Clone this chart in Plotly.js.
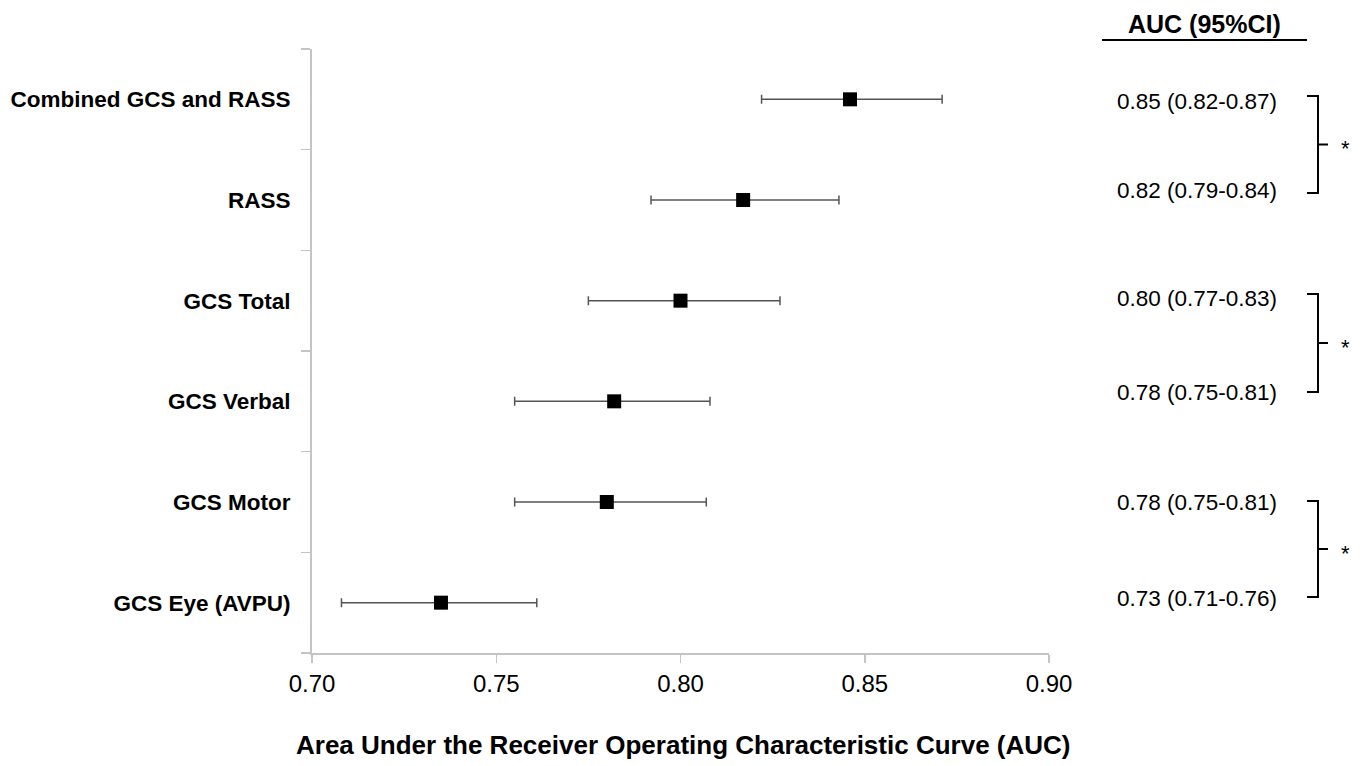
<!DOCTYPE html>
<html>
<head>
<meta charset="utf-8">
<script src="https://cdn.plot.ly/plotly-3.0.1.min.js"></script>
<style>html,body{margin:0;padding:0;background:#fff;}#chart{width:1363px;height:766px;}</style>
</head>
<body>
<div id="chart"></div>
<script>
// ---- data ----
var categories = ["Combined GCS and RASS", "RASS", "GCS Total", "GCS Verbal", "GCS Motor", "GCS Eye (AVPU)"];
var aucValues  = [0.846, 0.817, 0.800, 0.782, 0.780, 0.735];
var ciLower    = [0.822, 0.792, 0.775, 0.755, 0.755, 0.708];
var ciUpper    = [0.871, 0.843, 0.827, 0.808, 0.807, 0.761];
var aucLabels  = ["0.85 (0.82-0.87)", "0.82 (0.79-0.84)", "0.80 (0.77-0.83)", "0.78 (0.75-0.81)", "0.78 (0.75-0.81)", "0.73 (0.71-0.76)"];
var xTickVals  = [0.70, 0.75, 0.80, 0.85, 0.90];
var xTickText  = ["0.70", "0.75", "0.80", "0.85", "0.90"];
var comparisons = [[0, 1], [2, 3], [4, 5]]; // pairs marked with *
var columnHeader = "AUC (95%CI)";
var xTitle = "Area Under the Receiver Operating Characteristic Curve (AUC)";

// ---- geometry ----
var W = 1363, H = 766;
var M = {l: 312, r: 314, t: 49, b: 113};
var PW = W - M.l - M.r, PH = H - M.t - M.b;
function px(x) { return (x - M.l) / PW; }
function py(y) { return 1 - (y - M.t) / PH; }

var n = categories.length;
var yPos = categories.map(function (c, i) { return n - 1 - i; });
var boundaries = [];
for (var k = 0; k <= n; k++) boundaries.push(k - 0.5);

var trace = {
  type: "scatter",
  mode: "markers",
  x: aucValues,
  y: yPos,
  marker: {symbol: "square", size: 14, color: "#000"},
  error_x: {
    type: "data",
    symmetric: false,
    array: aucValues.map(function (v, i) { return ciUpper[i] - v; }),
    arrayminus: aucValues.map(function (v, i) { return v - ciLower[i]; }),
    color: "#555",
    thickness: 1.5,
    width: 4.5
  },
  hoverinfo: "x+y",
  showlegend: false
};

var FONT = "Liberation Sans, Arial, sans-serif";
var annotations = [];
var shapes = [];

// column header + underline
annotations.push({xref: "paper", yref: "paper", x: px(1204), y: py(24), text: "<b>" + columnHeader + "</b>",
  showarrow: false, xanchor: "center", yanchor: "middle", font: {family: FONT, size: 25, color: "#000"}});
shapes.push({type: "line", xref: "paper", yref: "paper", x0: px(1102), x1: px(1307), y0: py(40), y1: py(40),
  line: {color: "#000", width: 2}});

// AUC text labels
var labelY = [101, 190, 298, 392, 502, 598];
aucLabels.forEach(function (t, i) {
  annotations.push({xref: "paper", yref: "paper", x: px(1197), y: py(labelY[i]), text: t, showarrow: false,
    xanchor: "center", yanchor: "middle", font: {family: FONT, size: 22.5, color: "#000"}});
});

// significance brackets
var brackets = [[96, 193], [294, 392], [501, 597]];
comparisons.forEach(function (pair, j) {
  var top = brackets[j][0], bot = brackets[j][1], mid = (top + bot) / 2;
  var path = "M" + px(1307) + "," + py(top) + " L" + px(1318) + "," + py(top) + " L" + px(1318) + "," + py(bot) +
             " L" + px(1307) + "," + py(bot) + " M" + px(1318) + "," + py(mid) + " L" + px(1328) + "," + py(mid);
  shapes.push({type: "path", xref: "paper", yref: "paper", path: path, line: {color: "#000", width: 2}});
  annotations.push({xref: "paper", yref: "paper", x: px(1345), y: py(mid + 4), text: "*", showarrow: false,
    xanchor: "center", yanchor: "middle", font: {family: FONT, size: 22, color: "#000"}});
});

// x-axis title
annotations.push({xref: "paper", yref: "paper", x: px(683), y: py(745), text: "<b>" + xTitle + "</b>", showarrow: false,
  xanchor: "center", yanchor: "middle", font: {family: FONT, size: 26, color: "#000"}});

var layout = {
  width: W, height: H, autosize: false,
  margin: M,
  paper_bgcolor: "#fff", plot_bgcolor: "#fff",
  font: {family: FONT, color: "#000"},
  xaxis: {
    range: [0.70, 0.90], tickvals: xTickVals, ticktext: xTickText,
    showline: true, linecolor: "#c4c4c4", linewidth: 2,
    ticks: "outside", ticklen: 8, tickcolor: "#c4c4c4", tickwidth: 1.5,
    showgrid: false, zeroline: false, fixedrange: true,
    tickfont: {family: FONT, size: 24, color: "#000"}
  },
  yaxis: {
    range: [-0.5, n - 0.5], tickvals: yPos, ticktext: categories.map(function (c) { return "<b>" + c + "</b>"; }),
    showline: true, linecolor: "#c4c4c4", linewidth: 2,
    ticks: "", ticklabelstandoff: 15,
    minor: {tickvals: boundaries, ticks: "outside", ticklen: 9, tickcolor: "#c4c4c4", tickwidth: 1.5, showgrid: false},
    showgrid: false, zeroline: false, fixedrange: true,
    tickfont: {family: FONT, size: 22.5, color: "#000"}
  },
  annotations: annotations,
  shapes: shapes
};

Plotly.newPlot("chart", [trace], layout, {displayModeBar: false, staticPlot: true});
</script>
</body>
</html>
